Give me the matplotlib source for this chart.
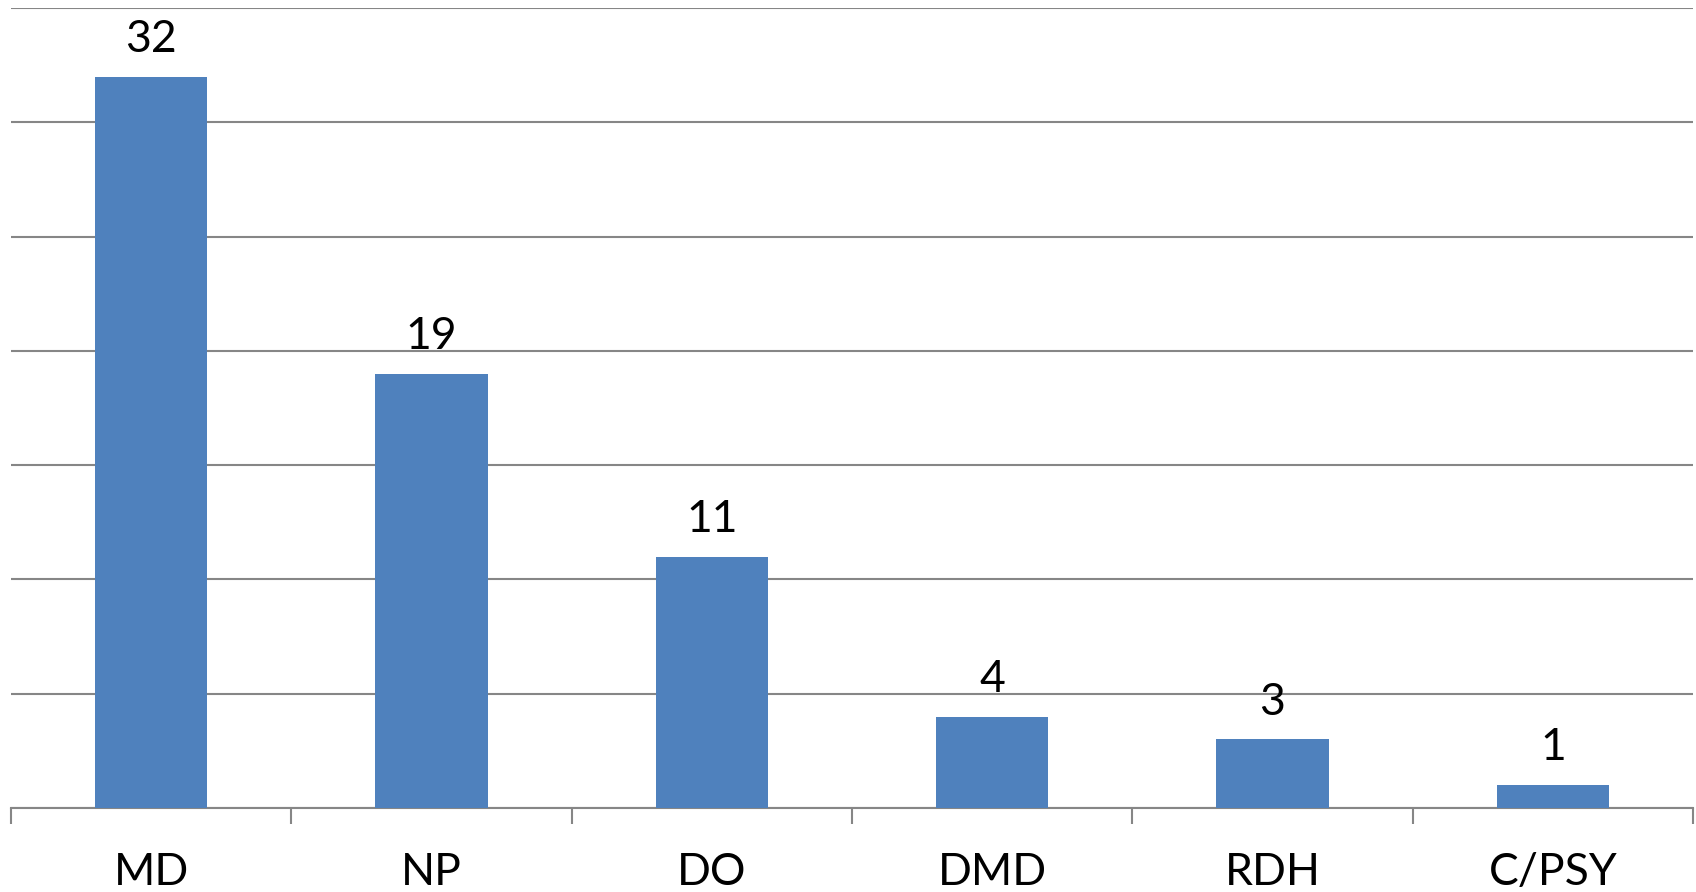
import numpy as np
import matplotlib.pyplot as plt
from matplotlib.ticker import MultipleLocator, FixedLocator

# данные
categories = ["MD", "NP", "DO", "DMD", "RDH", "C/PSY"]
counts = [32, 19, 11, 4, 3, 1]

plt.rcParams['font.family'] = ['Lato', 'DejaVu Sans']

fig = plt.figure(figsize=(16.96, 8.92), dpi=100)
ax = fig.add_axes([11 / 1696, 84 / 892, 1682 / 1696, 800 / 892])

x = np.arange(len(categories))
bars = ax.bar(x, counts, width=0.4, color='#4F81BD', zorder=3)

for b, v in zip(bars, counts):
    ax.annotate(str(v), (b.get_x() + b.get_width() / 2, v), xytext=(0, 12),
                textcoords='offset points', ha='center', va='bottom', fontsize=32)

ax.set_xlim(-0.5, len(categories) - 0.5)
ax.set_ylim(0, 35)
ax.yaxis.set_major_locator(MultipleLocator(5))
ax.grid(axis='y', color='#868686', linewidth=1.5, zorder=0)
ax.tick_params(axis='y', left=False, labelleft=False)

ax.set_xticks(x)
ax.set_xticklabels(categories, fontsize=32)
ax.xaxis.set_minor_locator(FixedLocator(np.arange(len(categories) + 1) - 0.5))
ax.tick_params(axis='x', which='major', length=0, pad=32)
ax.tick_params(axis='x', which='minor', length=11.5, width=1.5, color='#868686')

for s in ['top', 'left', 'right']:
    ax.spines[s].set_visible(False)
ax.spines['bottom'].set_color('#868686')
ax.spines['bottom'].set_linewidth(1.5)

fig.savefig('out.png', dpi=100)
